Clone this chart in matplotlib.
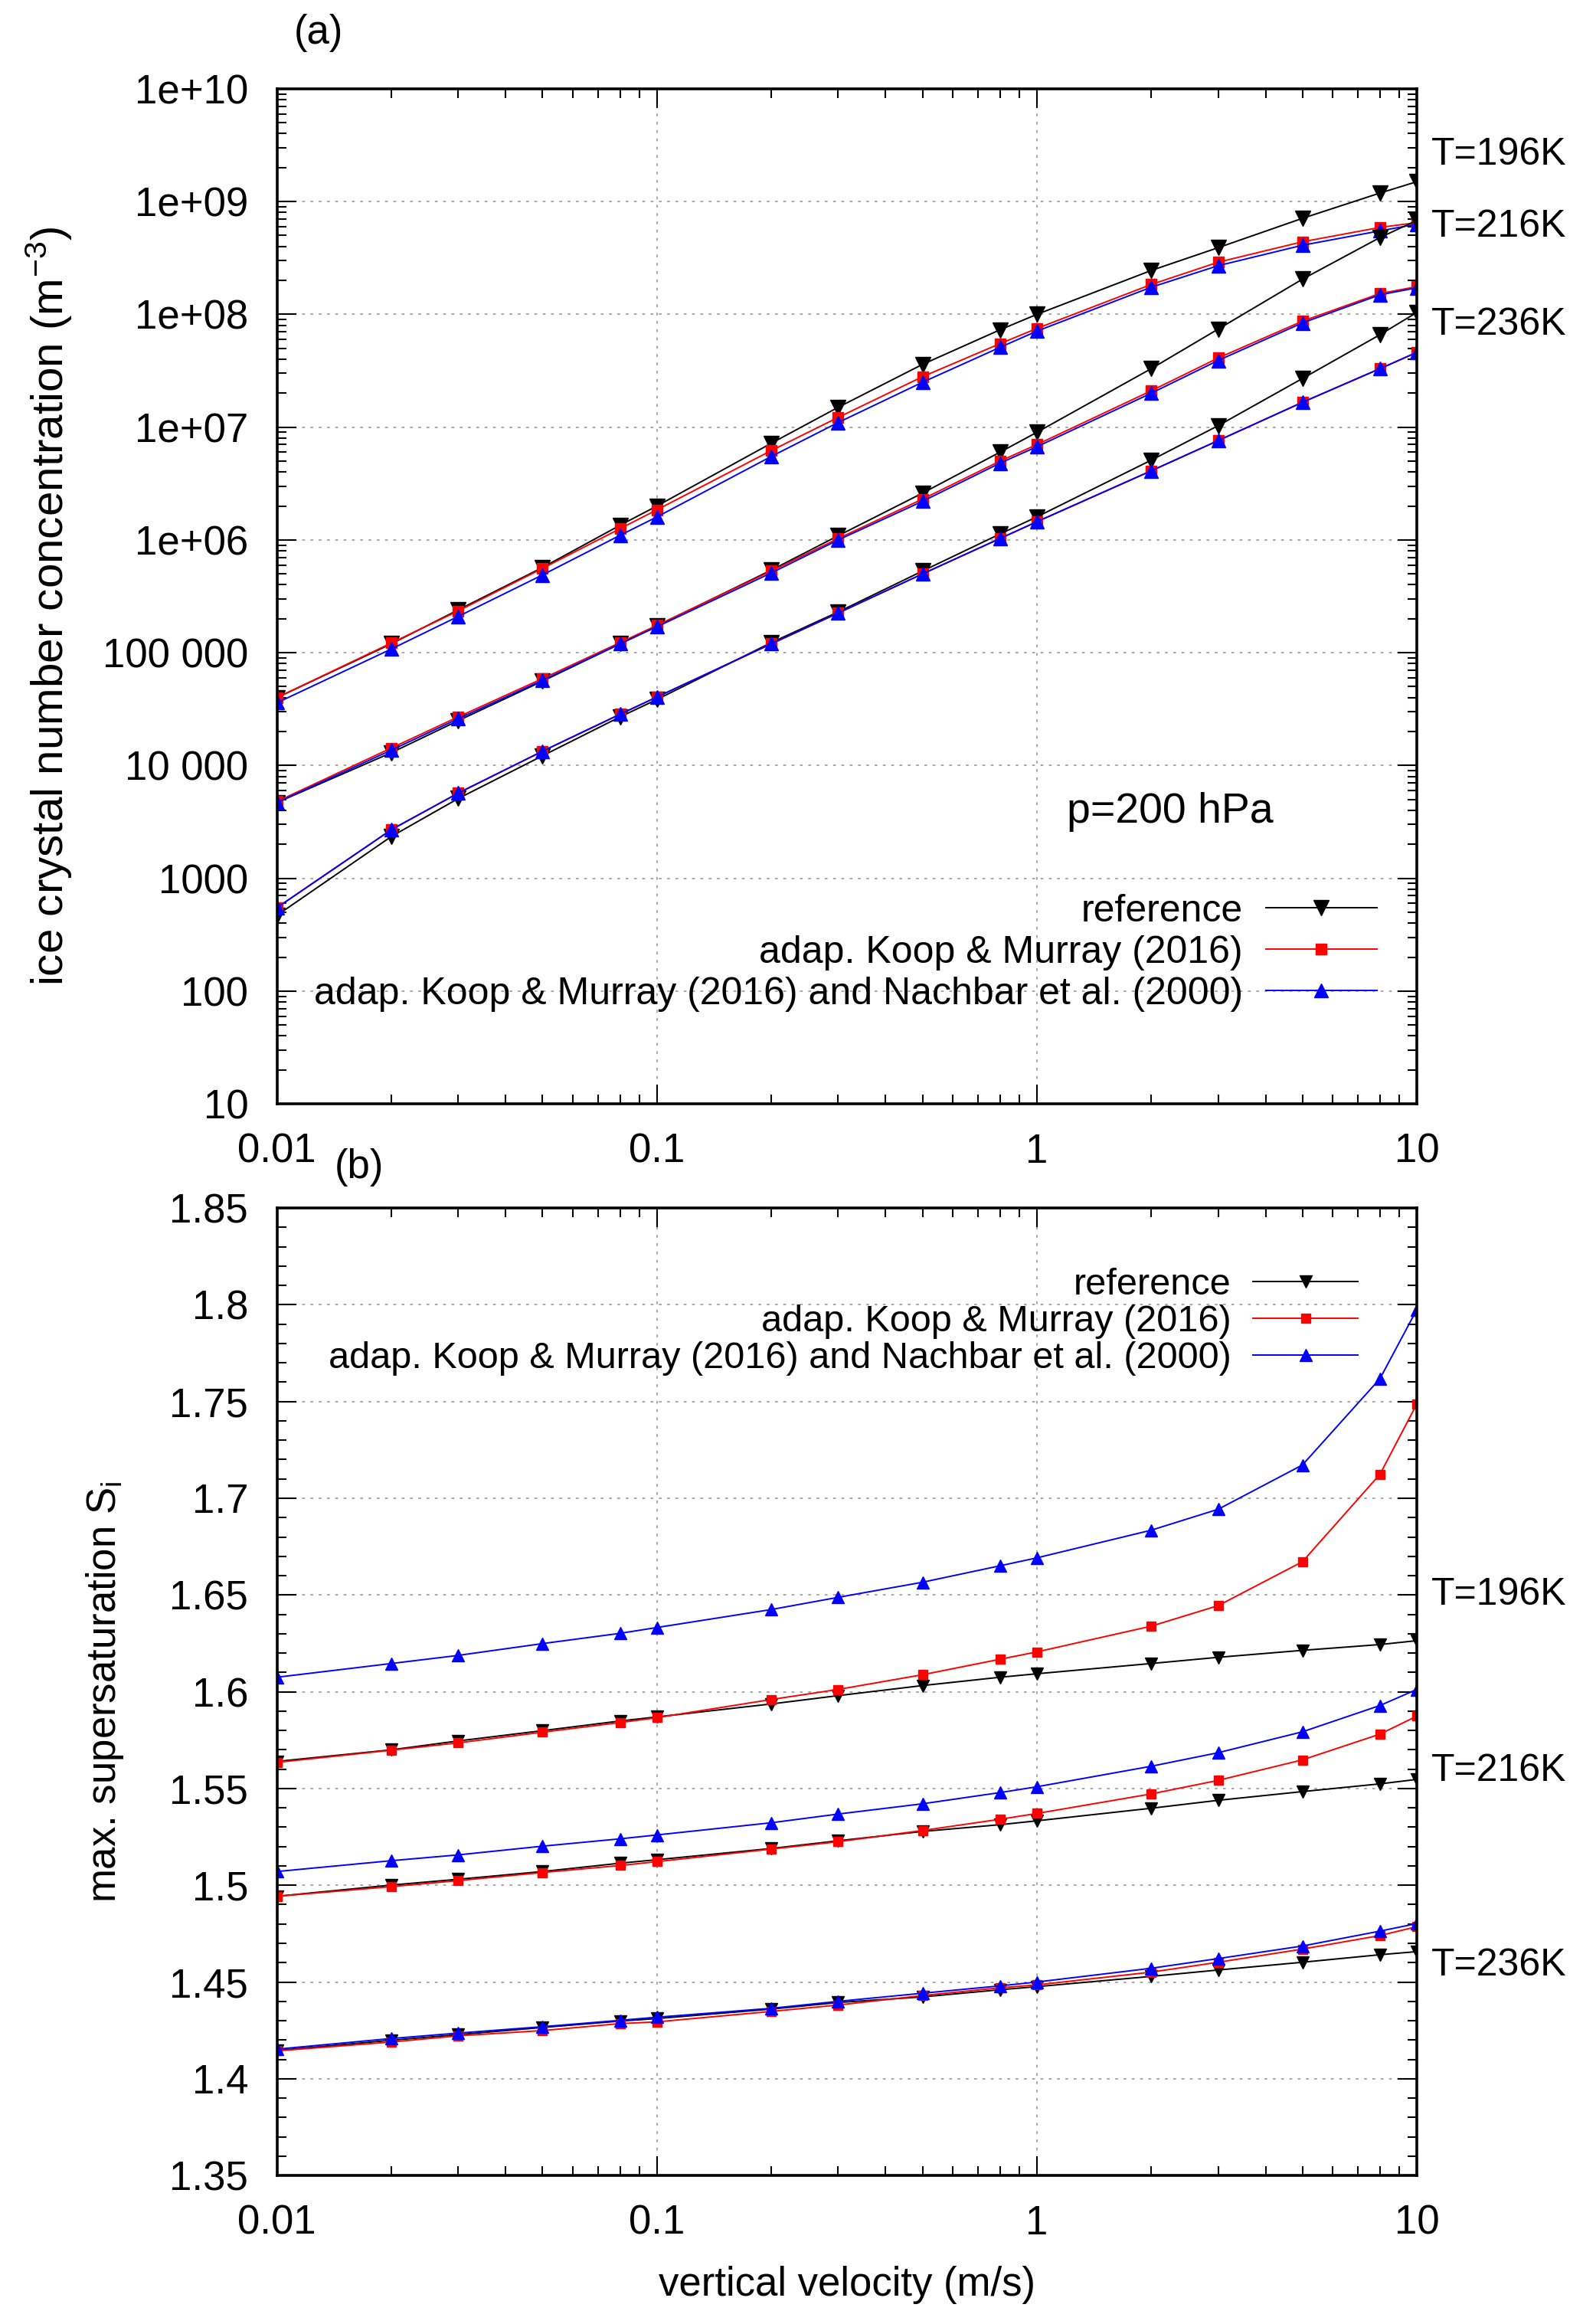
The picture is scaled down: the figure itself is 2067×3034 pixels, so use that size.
import matplotlib
matplotlib.use('Agg')
import matplotlib.pyplot as plt
from matplotlib.ticker import FixedLocator, FixedFormatter, LogLocator, MultipleLocator, NullFormatter, FormatStrFormatter

plt.rcParams['font.family'] = ['Liberation Sans', 'DejaVu Sans']
plt.rcParams['mathtext.fontset'] = 'custom'
plt.rcParams['mathtext.rm'] = 'Liberation Sans'
plt.rcParams['mathtext.it'] = 'Liberation Sans:italic'

# vertical velocity (m/s)
w = [0.01, 0.02, 0.03, 0.05, 0.08, 0.1, 0.2, 0.3, 0.5, 0.8, 1, 2, 3, 5, 8, 10]

# (a) ice crystal number concentration (m^-3)
n_ref_196 = [4.0e4, 1.2e5, 2.4e5, 5.7e5, 1.35e6, 2.0e6, 7.2e6, 1.5e7, 3.6e7, 7.3e7, 1.0e8, 2.45e8, 3.9e8, 7.1e8, 1.19e9, 1.5e9]
n_km_196 = [4.0e4, 1.22e5, 2.35e5, 5.6e5, 1.26e6, 1.85e6, 6.2e6, 1.22e7, 2.8e7, 5.5e7, 7.5e7, 1.84e8, 2.9e8, 4.4e8, 5.9e8, 6.5e8]
n_kmn_196 = [3.6e4, 1.08e5, 2.1e5, 4.9e5, 1.1e6, 1.6e6, 5.5e6, 1.1e7, 2.5e7, 5.1e7, 7.1e7, 1.74e8, 2.7e8, 4.1e8, 5.5e8, 6.3e8]

n_ref_216 = [4.7e3, 1.3e4, 2.5e4, 5.6e4, 1.2e5, 1.73e5, 5.4e5, 1.09e6, 2.6e6, 6.0e6, 9.0e6, 3.3e7, 7.4e7, 2.05e8, 4.8e8, 6.8e8]
n_km_216 = [4.8e3, 1.43e4, 2.7e4, 5.9e4, 1.23e5, 1.75e5, 5.3e5, 1.03e6, 2.3e6, 5.0e6, 7.0e6, 2.1e7, 4.1e7, 8.7e7, 1.53e8, 1.76e8]
n_kmn_216 = [4.7e3, 1.37e4, 2.6e4, 5.7e4, 1.2e5, 1.7e5, 5.1e5, 1.0e6, 2.2e6, 4.8e6, 6.7e6, 2.0e7, 3.9e7, 8.4e7, 1.49e8, 1.72e8]

n_ref_236 = [470, 2350, 5100, 1.22e4, 2.7e4, 3.85e4, 1.23e5, 2.3e5, 5.3e5, 1.13e6, 1.6e6, 5.1e6, 1.03e7, 2.7e7, 6.6e7, 1.04e8]
n_km_236 = [550, 2700, 5700, 1.34e4, 2.85e4, 4.05e4, 1.2e5, 2.25e5, 5.0e5, 1.03e6, 1.45e6, 4.1e6, 7.6e6, 1.66e7, 3.3e7, 4.6e7]
n_kmn_236 = [550, 2700, 5700, 1.34e4, 2.85e4, 4.05e4, 1.2e5, 2.25e5, 5.0e5, 1.03e6, 1.45e6, 4.1e6, 7.6e6, 1.66e7, 3.3e7, 4.6e7]

# (b) max. supersaturation S_i
s_ref_196 = [1.564, 1.570, 1.5746, 1.5799, 1.5849, 1.587, 1.5937, 1.598, 1.6032, 1.6075, 1.6093, 1.6146, 1.6178, 1.6214, 1.6244, 1.6264]
s_km_196 = [1.5635, 1.5698, 1.5736, 1.5791, 1.5841, 1.5866, 1.596, 1.6012, 1.6088, 1.6168, 1.6206, 1.6339, 1.6445, 1.6672, 1.7124, 1.7487]
s_kmn_196 = [1.6075, 1.6146, 1.6188, 1.6249, 1.6302, 1.6332, 1.6425, 1.6488, 1.6566, 1.6651, 1.6692, 1.6835, 1.6943, 1.7172, 1.7618, 1.7975]

s_ref_216 = [1.4943, 1.5001, 1.5031, 1.5071, 1.5114, 1.5132, 1.519, 1.523, 1.5278, 1.5313, 1.5333, 1.5398, 1.5439, 1.5484, 1.5524, 1.5547]
s_km_216 = [1.4943, 1.4993, 1.5024, 1.5066, 1.5102, 1.5122, 1.5187, 1.5225, 1.5283, 1.5341, 1.5371, 1.5472, 1.5542, 1.5648, 1.5781, 1.5874]
s_kmn_216 = [1.5071, 1.5127, 1.5157, 1.5202, 1.524, 1.526, 1.5323, 1.5368, 1.5421, 1.5479, 1.5509, 1.5615, 1.5685, 1.5793, 1.5929, 1.6012]

s_ref_236 = [1.4146, 1.4199, 1.4228, 1.4265, 1.4298, 1.4311, 1.436, 1.4394, 1.4423, 1.446, 1.4476, 1.4529, 1.4562, 1.4602, 1.4641, 1.4657]
s_km_236 = [1.4144, 1.419, 1.4222, 1.4249, 1.4285, 1.4294, 1.4348, 1.4381, 1.443, 1.447, 1.4485, 1.4551, 1.4602, 1.467, 1.474, 1.4786]
s_kmn_236 = [1.4153, 1.4208, 1.4236, 1.4269, 1.4302, 1.4318, 1.4364, 1.44, 1.4442, 1.448, 1.45, 1.4571, 1.4621, 1.4686, 1.4763, 1.4802]

labels = ['reference', 'adap. Koop & Murray (2016)',
          'adap. Koop & Murray (2016) and Nachbar et al. (2000)']
temps = ['T=196K', 'T=216K', 'T=236K']
temp_y_a = [2.6e9, 6.0e8, 8.1e7]
temp_y_b = [1.650, 1.559, 1.4585]

xticks = [0.01, 0.1, 1, 10]
xticklabels = ['0.01', '0.1', '1', '10']
yticks_a = [10, 100, 1e3, 1e4, 1e5, 1e6, 1e7, 1e8, 1e9, 1e10]
yticklabels_a = ['10', '100', '1000', '10 000', '100 000', '1e+06', '1e+07', '1e+08', '1e+09', '1e+10']

FS = 38

fig = plt.figure(figsize=(20.67, 30.34), dpi=100)
ax1 = fig.add_axes([0.175, 0.5250, 0.720, 0.4368])
ax2 = fig.add_axes([0.175, 0.0639, 0.720, 0.4163])


def style(ax):
    ax.set_xscale('log')
    ax.set_xlim(0.01, 10)
    ax.xaxis.set_major_locator(FixedLocator(xticks))
    ax.xaxis.set_major_formatter(FixedFormatter(xticklabels))
    ax.xaxis.set_minor_locator(LogLocator(base=10, subs=range(2, 10)))
    ax.xaxis.set_minor_formatter(NullFormatter())
    ax.tick_params(which='both', direction='in', top=True, right=True, labelsize=FS, width=1.5, pad=27)
    ax.tick_params(which='major', length=18)
    ax.tick_params(which='minor', length=8.5)
    for s in ax.spines.values():
        s.set_linewidth(2.6)
    ax.grid(True, which='major', color='#a0a0a0', linestyle=(0, (2, 4)), linewidth=1.3)
    ax.set_axisbelow(True)


# panel (a)
style(ax1)
ax1.set_yscale('log')
ax1.set_ylim(10, 1e10)
ax1.yaxis.set_major_locator(FixedLocator(yticks_a))
ax1.yaxis.set_major_formatter(FixedFormatter(yticklabels_a))
ax1.yaxis.set_minor_locator(LogLocator(base=10, subs=range(2, 10), numticks=20))
ax1.yaxis.set_minor_formatter(NullFormatter())

for i, (r, k, n) in enumerate([(n_ref_196, n_km_196, n_kmn_196),
                               (n_ref_216, n_km_216, n_kmn_216),
                               (n_ref_236, n_km_236, n_kmn_236)]):
    ax1.plot(w, r, c='k', marker='v', ms=14, lw=1.4, label=labels[0] if i == 0 else None)
    ax1.plot(w, k, c='#ff0000', marker='s', ms=10, lw=1.4, label=labels[1] if i == 0 else None)
    ax1.plot(w, n, c='#0000ff', marker='^', ms=13, lw=1.4, label=labels[2] if i == 0 else None)

for t, y in zip(temps, temp_y_a):
    ax1.text(1.013, y, t, transform=ax1.get_yaxis_transform(), fontsize=FS - 2, va='center', ha='left')

ax1.text(1.2, 3900, 'p=200 hPa', fontsize=FS + 2, va='center', ha='left')
ax1.set_ylabel('ice crystal number concentration (m$^{-3}$)', fontsize=FS + 4)
ax1.yaxis.set_label_coords(-0.178, 0.49)
ax1.legend(loc='lower right', bbox_to_anchor=(0.965, 0.091), markerfirst=False, frameon=False,
           fontsize=FS - 2, numpoints=1, handlelength=2.9, handletextpad=0.6,
           borderpad=0, borderaxespad=0, labelspacing=0.16)

# panel (b)
style(ax2)
ax2.set_ylim(1.35, 1.85)
ax2.yaxis.set_major_locator(MultipleLocator(0.05))
ax2.yaxis.set_major_formatter(FormatStrFormatter('%g'))
ax2.yaxis.set_minor_locator(MultipleLocator(0.01))

for i, (r, k, n) in enumerate([(s_ref_196, s_km_196, s_kmn_196),
                               (s_ref_216, s_km_216, s_kmn_216),
                               (s_ref_236, s_km_236, s_kmn_236)]):
    ax2.plot(w, r, c='k', marker='v', ms=11, lw=1.4, label=labels[0] if i == 0 else None)
    ax2.plot(w, k, c='#ff0000', marker='s', ms=8, lw=1.4, label=labels[1] if i == 0 else None)
    ax2.plot(w, n, c='#0000ff', marker='^', ms=11, lw=1.4, label=labels[2] if i == 0 else None)

for t, y in zip(temps, temp_y_b):
    ax2.text(1.013, y, t, transform=ax2.get_yaxis_transform(), fontsize=FS - 2, va='center', ha='left')

ax2.set_ylabel('max. supersaturation S$_\\mathrm{i}$', fontsize=FS)
ax2.yaxis.set_label_coords(-0.133, 0.5)
ax2.set_xlabel('vertical velocity (m/s)', fontsize=FS)
ax2.xaxis.set_label_coords(0.5, -0.093)
ax2.legend(loc='upper right', bbox_to_anchor=(0.948, 0.938), markerfirst=False, frameon=False,
           fontsize=FS - 3, numpoints=1, handlelength=2.8, handletextpad=0.6,
           borderpad=0, borderaxespad=0, labelspacing=0.06)

fig.text(416 / 2067, 1 - 43 / 3034, '(a)', fontsize=FS, ha='center', va='center')
fig.text(469 / 2067, 1 - 1524 / 3034, '(b)', fontsize=FS, ha='center', va='center')

fig.savefig('out.png', dpi=100)
